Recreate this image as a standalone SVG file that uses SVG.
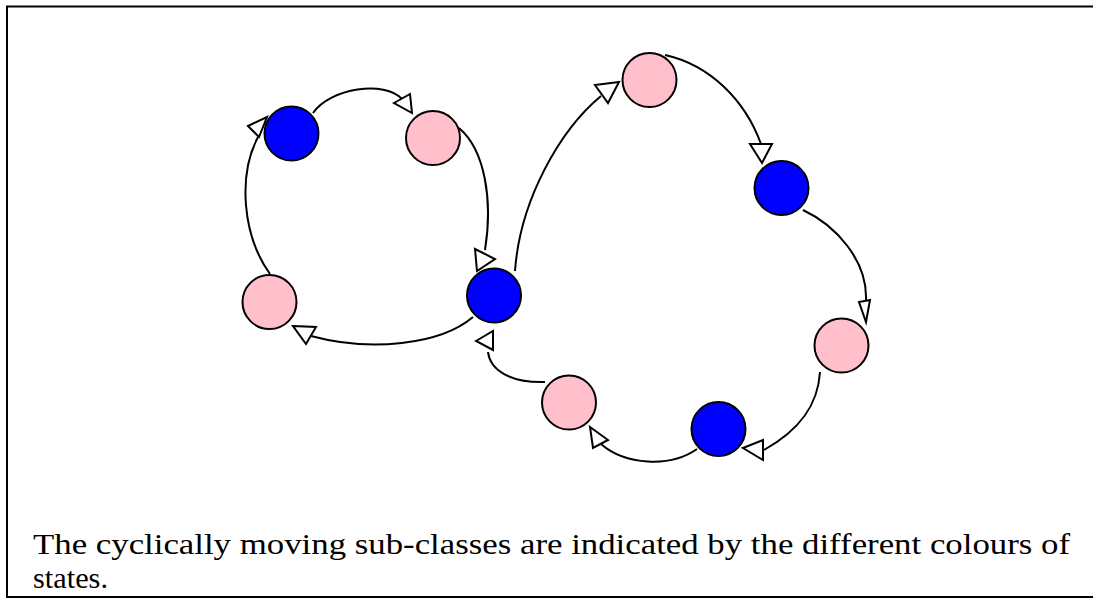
<svg xmlns="http://www.w3.org/2000/svg" width="1093" height="599" viewBox="0 0 1093 599">
<style>
.blue{fill:#0000ff;stroke:#000;stroke-width:2}
.pink{fill:#ffc0cb;stroke:#000;stroke-width:2}
.edge{fill:none;stroke:#000;stroke-width:2}
.head{fill:#fff;stroke:#000;stroke-width:2;stroke-linejoin:miter}
.cap{font-family:"Liberation Serif","DejaVu Serif",serif;font-size:29px;fill:#000}
</style>
<rect width="1093" height="599" fill="#fff"/>
<path d="M1093,6.5 H7 V597 H1093" fill="none" stroke="#000" stroke-width="2"/>
<g id="connectors">
  <path class="edge" d="M313,113 C330,88 385,80 402,99"/>
  <polygon class="head" points="394,103 410,94 412,113"/>
  <path class="edge" d="M459,128 C485,150 493,200 485,250"/>
  <polygon class="head" points="475,249 495,259 477,271"/>
  <path class="edge" d="M473,317 C440,345 370,352 311,336"/>
  <polygon class="head" points="293,326 316,327 306,344"/>
  <path class="edge" d="M270,274 C242,235 238,175 258,137"/>
  <polygon class="head" points="248,126 267,117 259,137"/>
  <path class="edge" d="M515,271 C520,200 560,130 601,96"/>
  <polygon class="head" points="595,85 619,82 608,103"/>
  <path class="edge" d="M665,55 C710,65 745,100 761,144"/>
  <polygon class="head" points="750,144 772,144 762,163"/>
  <path class="edge" d="M803,210 C835,225 868,260 866,301"/>
  <polygon class="head" points="859,302 870,300 866,322"/>
  <path class="edge" d="M820,372 C818,405 800,430 764,450"/>
  <polygon class="head" points="743,448 763,440 763,460"/>
  <path class="edge" d="M697,449 C670,468 625,465 601,444"/>
  <polygon class="head" points="590,427 608,440 593,448"/>
  <path class="edge" d="M545,382 C510,383 490,370 488,352"/>
  <polygon class="head" points="476,341 493,331 493,350"/>
</g>
<g id="nodeA"><circle class="blue" cx="291.5" cy="133.5" r="27"/></g>
<g id="nodeB"><circle class="pink" cx="433" cy="138" r="27"/></g>
<g id="nodeC"><circle class="pink" cx="269.5" cy="302" r="27"/></g>
<g id="nodeD"><circle class="blue" cx="494" cy="295.5" r="27"/></g>
<g id="nodeE"><circle class="pink" cx="649.5" cy="80" r="27"/></g>
<g id="nodeF"><circle class="blue" cx="781.5" cy="188" r="27"/></g>
<g id="nodeG"><circle class="pink" cx="841.5" cy="345.5" r="27"/></g>
<g id="nodeH"><circle class="blue" cx="718.5" cy="429" r="27"/></g>
<g id="nodeI"><circle class="pink" cx="569" cy="402.5" r="27"/></g>
<g id="caption">
  <text class="cap" x="33" y="554" textLength="1037" lengthAdjust="spacingAndGlyphs">The cyclically moving sub-classes are indicated by the different colours of</text>
  <text class="cap" x="33" y="588" textLength="75" lengthAdjust="spacingAndGlyphs">states.</text>
</g>
</svg>
